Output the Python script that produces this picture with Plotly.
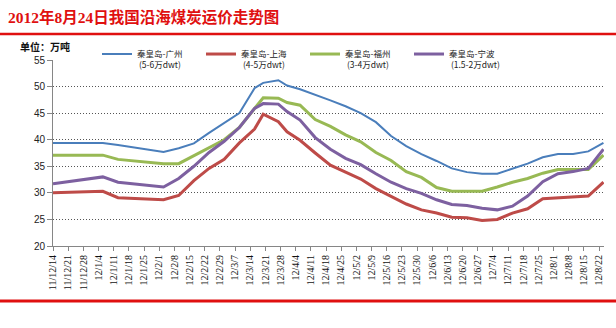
import plotly.graph_objects as go

# ---------------- data ----------------
dates = [
    "2011-12-14", "2012-01-06", "2012-01-13", "2012-02-03", "2012-02-10",
    "2012-02-17", "2012-02-24", "2012-03-02", "2012-03-09", "2012-03-16",
    "2012-03-20", "2012-03-27", "2012-03-31", "2012-04-06", "2012-04-13",
    "2012-04-20", "2012-04-27", "2012-05-04", "2012-05-11", "2012-05-18",
    "2012-05-25", "2012-06-01", "2012-06-08", "2012-06-15", "2012-06-22",
    "2012-06-29", "2012-07-06", "2012-07-13", "2012-07-20", "2012-07-27",
    "2012-08-03", "2012-08-10", "2012-08-17", "2012-08-24",
]

guangzhou = [39.4, 39.4, 39.0, 37.7, 38.4, 39.3, 41.3, 43.2, 45.0, 49.7,
             50.7, 51.2, 50.2, 49.5, 48.5, 47.4, 46.3, 45.0, 43.3, 40.7,
             38.8, 37.3, 36.0, 34.6, 33.9, 33.6, 33.6, 34.5, 35.5, 36.7,
             37.3, 37.3, 37.8, 39.4]
shanghai = [30.0, 30.3, 29.1, 28.7, 29.5, 32.3, 34.6, 36.3, 39.4, 42.0,
            44.8, 43.4, 41.5, 39.9, 37.5, 35.2, 33.9, 32.6, 30.8, 29.4,
            27.9, 26.8, 26.2, 25.4, 25.3, 24.8, 25.0, 26.2, 27.0, 28.9,
            29.1, 29.2, 29.4, 32.0]
fuzhou = [37.1, 37.1, 36.3, 35.5, 35.5, 37.0, 38.6, 40.0, 42.3, 45.9,
          47.9, 47.8, 47.0, 46.5, 43.8, 42.5, 40.9, 39.6, 37.6, 36.1,
          34.0, 32.9, 31.0, 30.3, 30.3, 30.3, 31.1, 32.0, 32.7, 33.7,
          34.4, 34.4, 34.4, 37.1]
ningbo = [31.7, 33.0, 32.0, 31.1, 32.7, 35.0, 37.6, 39.7, 42.3, 45.9,
          46.8, 46.7, 45.3, 43.7, 40.4, 38.2, 36.5, 35.3, 33.6, 32.0,
          30.8, 29.9, 28.7, 27.8, 27.6, 27.1, 26.8, 27.5, 29.4, 32.1,
          33.6, 34.0, 34.6, 38.2]

series_names = [
    "秦皇岛-广州<br> (5-6万dwt)",
    "秦皇岛-上海<br> (4-5万dwt)",
    "秦皇岛-福州<br> (3-4万dwt)",
    "秦皇岛-宁波<br> (1.5-2万dwt)",
]
series_colors = ["#4A7EBB", "#BE4B48", "#98B954", "#7D60A0"]

tick_dates = [
    "2011-12-14", "2011-12-21", "2011-12-28", "2012-01-04", "2012-01-11",
    "2012-01-18", "2012-01-25", "2012-02-01", "2012-02-08", "2012-02-15",
    "2012-02-22", "2012-02-29", "2012-03-07", "2012-03-14", "2012-03-21",
    "2012-03-28", "2012-04-04", "2012-04-11", "2012-04-18", "2012-04-25",
    "2012-05-02", "2012-05-09", "2012-05-16", "2012-05-23", "2012-05-30",
    "2012-06-06", "2012-06-13", "2012-06-20", "2012-06-27", "2012-07-04",
    "2012-07-11", "2012-07-18", "2012-07-25", "2012-08-01", "2012-08-08",
    "2012-08-15", "2012-08-22",
]
tick_labels = [
    "11/12/14", "11/12/21", "11/12/28", "12/1/4", "12/1/11", "12/1/18",
    "12/1/25", "12/2/1", "12/2/8", "12/2/15", "12/2/22", "12/2/29",
    "12/3/7", "12/3/14", "12/3/21", "12/3/28", "12/4/4", "12/4/11",
    "12/4/18", "12/4/25", "12/5/2", "12/5/9", "12/5/16", "12/5/23",
    "12/5/30", "12/6/6", "12/6/13", "12/6/20", "12/6/27", "12/7/4",
    "12/7/11", "12/7/18", "12/7/25", "12/8/1", "12/8/8", "12/8/15",
    "12/8/22",
]

title_text = "2012年8月24日我国沿海煤炭运价走势图"
unit_text = "单位：万吨"

# ---------------- layout geometry ----------------
W, H = 616, 328
ML, MR, MT, MB = 53, 12, 60, 82
PW, PH = W - ML - MR, H - MT - MB


def px_x(px):
    return (px - ML) / PW


def px_y(py):
    return (H - MB - py) / PH


CJK = "Noto Sans CJK SC"

fig = go.Figure()
widths = [2, 3, 3, 3]
for vals, name, col, w in zip([guangzhou, shanghai, fuzhou, ningbo],
                              series_names, series_colors, widths):
    fig.add_trace(go.Scatter(
        x=dates, y=vals, mode="lines", name=name,
        line=dict(color=col, width=w),
    ))

fig.update_layout(
    width=W, height=H, autosize=False,
    margin=dict(l=ML, r=MR, t=MT, b=MB, pad=0),
    paper_bgcolor="white", plot_bgcolor="white",
    title=dict(
        text=title_text, x=8 / W, xanchor="left", xref="container",
        y=1 - 18 / H, yanchor="middle", yref="container",
        font=dict(family="Liberation Serif, " + CJK, size=15.5, color="#E01010",
                  weight="bold"),
    ),
    showlegend=True,
    legend=dict(
        orientation="h", x=px_x(97), y=px_y(42), xanchor="left",
        yanchor="top", valign="top", entrywidth=59, entrywidthmode="pixels",
        font=dict(family=CJK, size=8.5, color="#222"),
        bgcolor="rgba(0,0,0,0)", tracegroupgap=0, itemwidth=30,
    ),
    xaxis=dict(
        type="date", range=["2011-12-14", "2012-08-24 06:00"],
        tickmode="array", tickvals=tick_dates, ticktext=tick_labels,
        tickangle=-90, ticks="outside", ticklen=4, tickcolor="#868686",
        showline=True, linecolor="#868686", linewidth=1, showgrid=False,
        zeroline=False,
        tickfont=dict(family="Liberation Serif", size=10, color="#111"),
    ),
    yaxis=dict(
        range=[20, 55], dtick=5, tick0=20, ticks="outside", ticklen=5,
        tickcolor="#868686", showline=True, linecolor="#868686", linewidth=1,
        showgrid=True, gridcolor="#555555", gridwidth=1, griddash="1px,2px",
        zeroline=False,
        tickfont=dict(family="Liberation Sans", size=10, color="#222"),
    ),
    annotations=[
        dict(text="<b>" + unit_text + "</b>", xref="paper", yref="paper",
             x=px_x(18), y=px_y(46), xanchor="left", yanchor="middle",
             showarrow=False, font=dict(family=CJK, size=10, color="#111")),
    ],
    shapes=[
        dict(type="line", xref="paper", yref="paper", x0=px_x(0), x1=px_x(W),
             y0=px_y(34), y1=px_y(34), line=dict(color="#E01010", width=2.5)),
        dict(type="line", xref="paper", yref="paper", x0=px_x(0), x1=px_x(W),
             y0=px_y(301), y1=px_y(301), line=dict(color="#E01010", width=3)),
    ],
)

fig.write_html("out.html")
